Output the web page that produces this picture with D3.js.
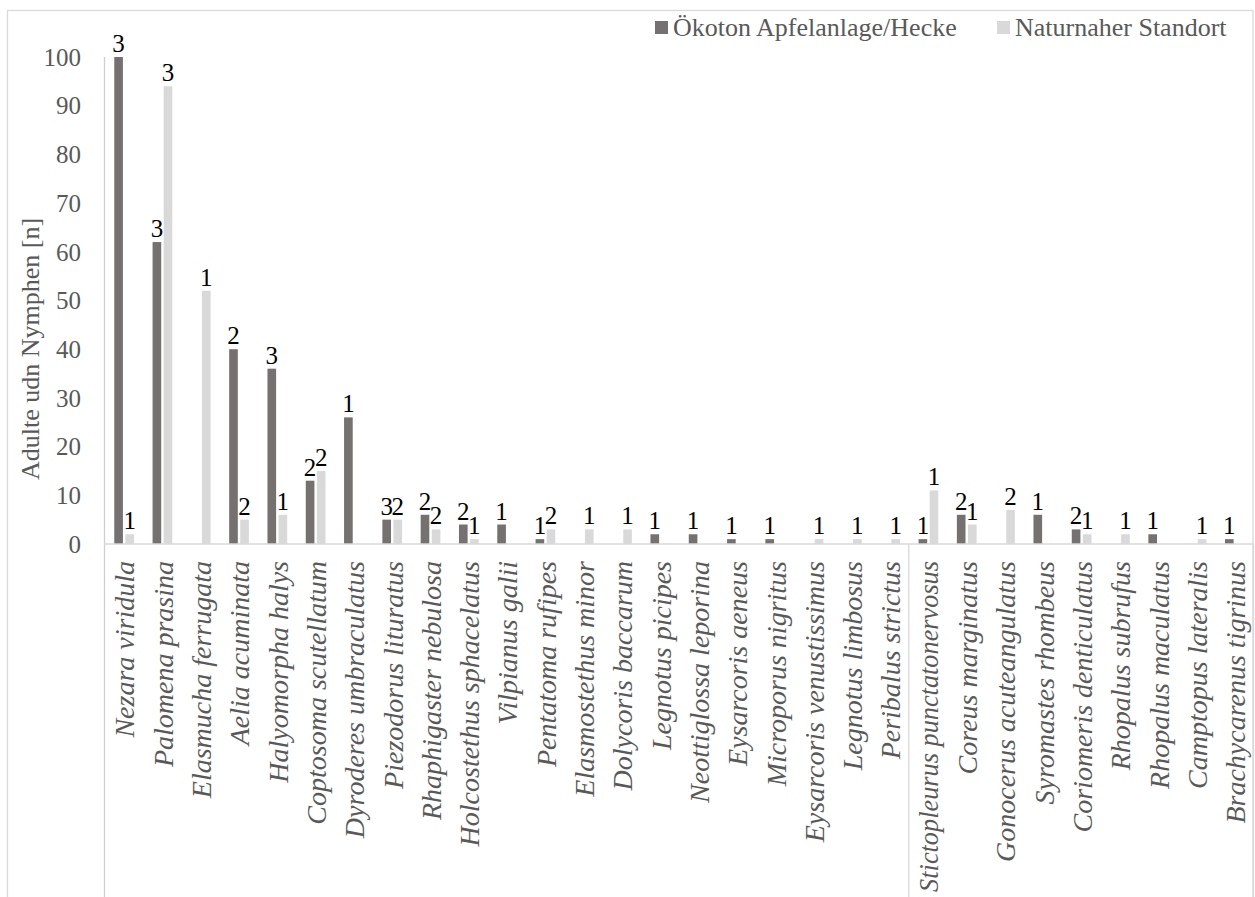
<!DOCTYPE html>
<html>
<head>
<meta charset="utf-8">
<script src="https://cdn.jsdelivr.net/npm/d3@7"></script>
<style>
  html, body { margin: 0; padding: 0; background: #fff; }
  svg { display: block; }
</style>
</head>
<body>
<svg id="chart" width="1255" height="897"></svg>
<script>
// ---- data ----
const categories = [
  "Nezara viridula", "Palomena prasina", "Elasmucha ferrugata", "Aelia acuminata",
  "Halyomorpha halys", "Coptosoma scutellatum", "Dyroderes umbraculatus",
  "Piezodorus lituratus", "Rhaphigaster nebulosa", "Holcostethus sphacelatus",
  "Vilpianus galii", "Pentatoma rufipes", "Elasmostethus minor", "Dolycoris baccarum",
  "Legnotus picipes", "Neottiglossa leporina", "Eysarcoris aeneus", "Microporus nigritus",
  "Eysarcoris venustissimus", "Legnotus limbosus", "Peribalus strictus",
  "Stictopleurus punctatonervosus", "Coreus marginatus", "Gonocerus acuteangulatus",
  "Syromastes rhombeus", "Coriomeris denticulatus", "Rhopalus subrufus",
  "Rhopalus maculatus", "Camptopus lateralis", "Brachycarenus tigrinus"
];
const seriesNames = ["Ökoton Apfelanlage/Hecke", "Naturnaher Standort"];
const oekotonValues = [100, 62, 0, 40, 36, 13, 26, 5, 6, 4, 4, 1, 0, 0, 2, 2, 1, 1, 0, 0, 0, 1, 6, 0, 6, 3, 0, 2, 0, 1];
const naturnahValues = [2, 94, 52, 5, 6, 15, 0, 5, 3, 1, 0, 3, 3, 3, 0, 0, 0, 0, 1, 1, 1, 11, 4, 7, 0, 2, 2, 0, 1, 0];
const oekotonLabels = [3, 3, null, 2, 3, 2, 1, 3, 2, 2, 1, 1, null, null, 1, 1, 1, 1, null, null, null, 1, 2, null, 1, 2, null, 1, null, 1];
const naturnahLabels = [1, 3, 1, 2, 1, 2, null, 2, 2, 1, null, 2, 1, 1, null, null, null, null, 1, 1, 1, 1, 1, 2, null, 1, 1, null, 1, null];
const groupSizes = [21, 9];
const yTicks = [0, 10, 20, 30, 40, 50, 60, 70, 80, 90, 100];
const yTitle = "Adulte udn Nymphen [n]";

// ---- styles ----
const FONT = '"Liberation Serif"';
const colors = ["#767171", "#d9d9d9"];
const textGray = "#595959";
const lineGray = "#d9d9d9";

const svg = d3.select("#chart");

// outer border
svg.append("rect")
  .attr("x", 7.5).attr("y", 10.5)
  .attr("width", 1245.5).attr("height", 1000)
  .attr("fill", "#fff").attr("stroke", lineGray).attr("stroke-width", 1.3);

const plotLeft = 104.5, plotRight = 1253.5, plotTop = 57, plotBase = 544;

const x0 = d3.scaleBand().domain(categories).range([plotLeft, plotRight]).padding(0);
const step = x0.bandwidth();
const x1 = d3.scaleBand().domain(seriesNames)
  .range([step * 0.255, step * 0.77]).paddingInner(0.22);
const y = d3.scaleLinear().domain([0, 100]).range([plotBase, plotTop]);

// y tick labels
svg.append("g").selectAll("text").data(yTicks).join("text")
  .attr("x", 81).attr("y", d => y(d)).attr("dy", "0.35em")
  .attr("text-anchor", "end")
  .style("font-family", FONT).style("font-size", "25px").attr("fill", textGray)
  .text(d => d);

// y title
svg.append("text")
  .attr("transform", `translate(30,${349}) rotate(-90)`)
  .attr("text-anchor", "middle").attr("dy", "0.35em")
  .style("font-family", FONT).style("font-size", "26px").attr("fill", textGray)
  .text(yTitle);

// bars
const seriesData = [
  { name: seriesNames[0], values: oekotonValues, labels: oekotonLabels, color: colors[0] },
  { name: seriesNames[1], values: naturnahValues, labels: naturnahLabels, color: colors[1] }
];

const barsG = svg.append("g");
seriesData.forEach(s => {
  const rows = categories.map((c, i) => ({ c, v: s.values[i], l: s.labels[i] }));
  barsG.append("g").selectAll("rect").data(rows.filter(r => r.v > 0)).join("rect")
    .attr("x", r => x0(r.c) + x1(s.name))
    .attr("width", x1.bandwidth())
    .attr("y", r => y(r.v))
    .attr("height", r => y(0) - y(r.v))
    .attr("fill", s.color);
  barsG.append("g").selectAll("text").data(rows.filter(r => r.l != null)).join("text")
    .attr("x", r => x0(r.c) + x1(s.name) + x1.bandwidth() / 2)
    .attr("y", r => y(r.v) - 5)
    .attr("text-anchor", "middle")
    .style("font-family", FONT).style("font-size", "25px").attr("fill", "#000")
    .text(r => r.l);
});

// y axis line (full height) and baseline
svg.append("line")
  .attr("x1", plotLeft).attr("x2", plotLeft).attr("y1", plotTop).attr("y2", 897)
  .attr("stroke", "#cfcfcf").attr("stroke-width", 1.3);
svg.append("line")
  .attr("x1", plotLeft).attr("x2", plotRight).attr("y1", plotBase).attr("y2", plotBase)
  .attr("stroke", lineGray).attr("stroke-width", 1.5);

// group dividers below the axis
let acc = 0;
groupSizes.forEach(n => {
  acc += n;
  const xi = acc < categories.length ? x0(categories[acc]) : plotRight;
  svg.append("line")
    .attr("x1", xi).attr("x2", xi).attr("y1", plotBase).attr("y2", 897)
    .attr("stroke", lineGray).attr("stroke-width", 1.3);
});

// category labels (shrink any label that would run past the bottom edge)
const labelTop = 561, maxLen = 897 - labelTop - 5, catFs = 28;
svg.append("g").selectAll("text").data(categories).join("text")
  .attr("transform", d => `translate(${x0(d) + step / 2 + 1},${labelTop}) rotate(-90)`)
  .attr("text-anchor", "end").attr("dy", "0.35em")
  .style("font-family", FONT).style("font-size", catFs + "px").style("font-style", "italic")
  .attr("fill", textGray)
  .text(d => d)
  .each(function () {
    const len = this.getComputedTextLength();
    if (len > maxLen) d3.select(this).style("font-size", (catFs * maxLen / len).toFixed(2) + "px");
  });

// legend
const legendItems = [
  { name: seriesNames[0], color: colors[0], sx: 655, tx: 673 },
  { name: seriesNames[1], color: colors[1], sx: 997, tx: 1015 }
];
const lg = svg.append("g");
legendItems.forEach(it => {
  lg.append("rect").attr("x", it.sx).attr("y", 21).attr("width", 13).attr("height", 13).attr("fill", it.color);
  lg.append("text").attr("x", it.tx).attr("y", 36)
    .style("font-family", FONT).style("font-size", "26px").attr("fill", textGray).text(it.name);
});
</script>
</body>
</html>
